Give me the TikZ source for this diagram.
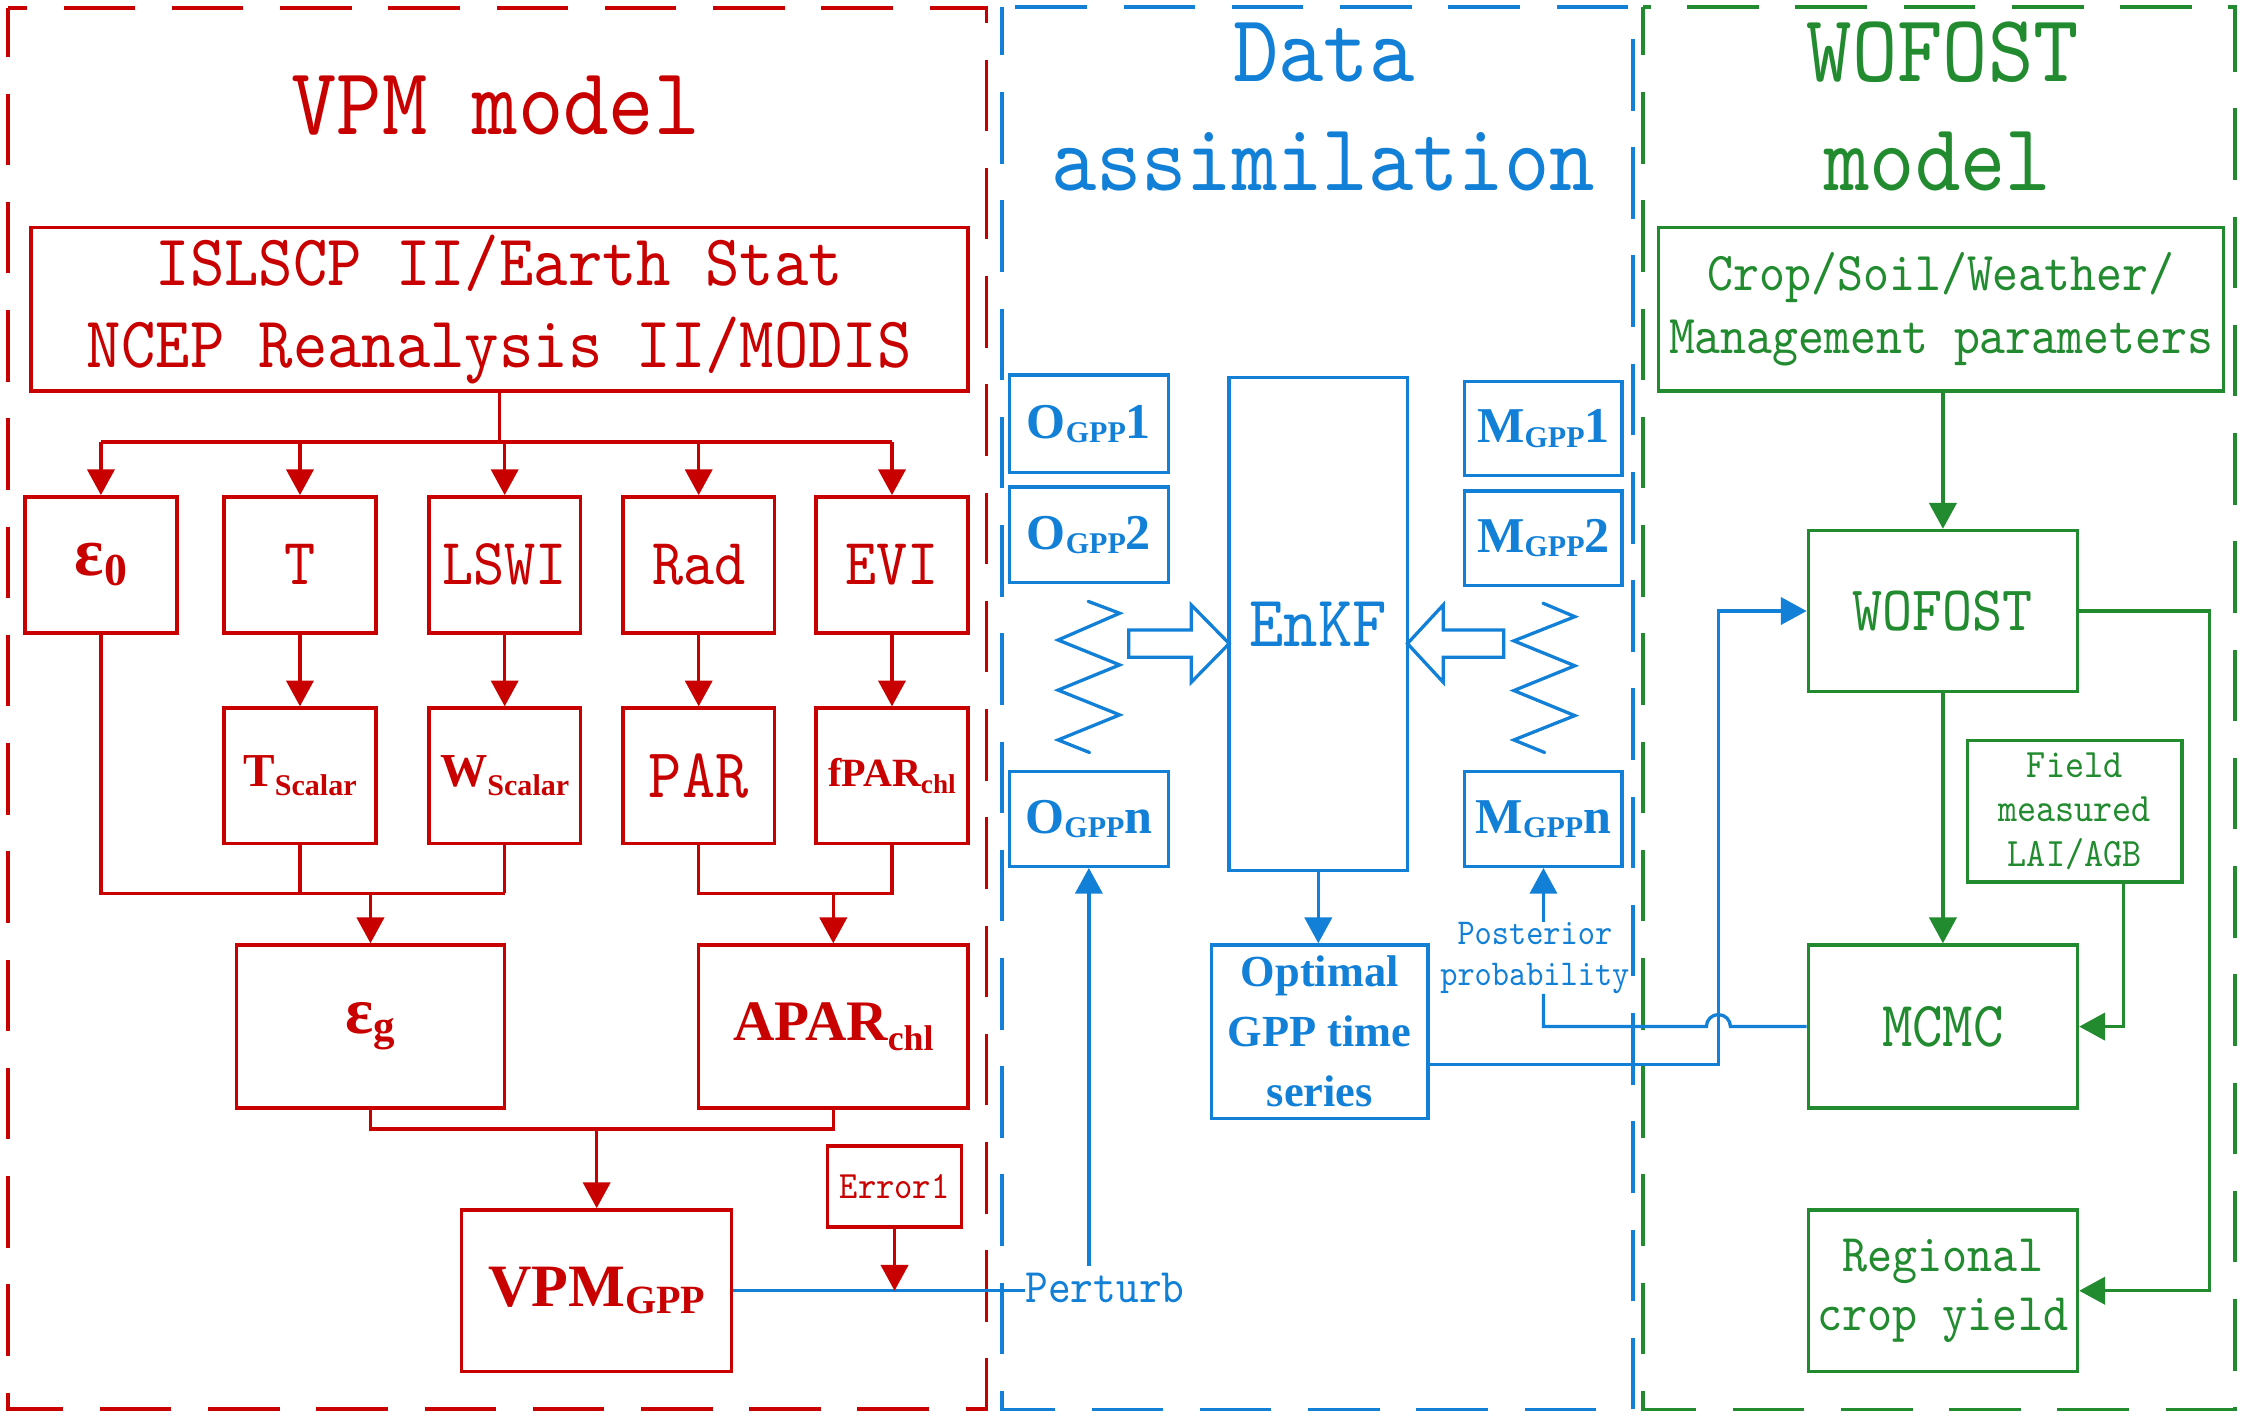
\documentclass[tikz,border=0pt]{standalone}
\usepackage{fontspec}
\setmainfont{Liberation Serif}
\newfontfamily\monof{lmmono10-regular.otf}[FakeStretch=0.9]
\usetikzlibrary{arrows.meta}

\definecolor{vred}{RGB}{200,0,0}
\definecolor{vblue}{RGB}{18,128,214}
\definecolor{vgreen}{RGB}{34,139,48}

\newcommand\vmono[2]{\monof\fontsize{#1}{#2}\selectfont}
\newcommand\vbold[2]{\bfseries\fontsize{#1}{#2}\selectfont}
\newcommand\sbs[3]{\raisebox{-#1pt}{\fontsize{#2}{#2}\selectfont #3}}

\tikzset{
  box/.style={draw, line width=2.4pt, inner sep=0pt, align=center},
  sz/.style 2 args={minimum width=#1pt, minimum height=#2pt},
  link/.style={line width=2.3pt},
  arr/.style={link, -{Triangle[length=18pt,width=19pt]}},
  panel/.style={line width=2.6pt, dash pattern=on 50pt off 25.6pt, dash phase=16pt},
}

\begin{document}
\begin{tikzpicture}[x=1pt, y=-1pt]
    \useasboundingbox (0,0) rectangle (1568,989);

    % Draw the three panels
    \draw[panel, vred] (5.8,5.8) rectangle (689,984.3);
    \draw[panel, vblue] (699.8,4.7) rectangle (1140.3,984.5);
    \draw[panel, vgreen] (1147.6,4.7) rectangle (1561,984.5);

    % VPM model
    \begin{scope}[color=vred]
        \node[font=\vmono{67}{76}, anchor=base] (tvpm) at (346,94) {VPM model};
        \node[box, sz={654.5}{114}, font=\vmono{50.8}{57}] (src) at (348.75,216)
            {ISLSCP II/Earth Stat\\NCEP Reanalysis II/MODIS};

        % Inputs
        \node[box, sz={106}{95}, font=\vbold{48}{50}] (e0) at (70.5,394.5) {ε\sbs{7}{32}{0}};
        \foreach \n/\x/\t in {tt/209.5/T, lswi/352.5/LSWI, rad/488/Rad, evi/623/EVI}
            \node[box, sz={106}{95}, font=\vmono{46}{50}] (\n) at (\x,394.5) {\t};

        % Scalars
        \node[box, sz={106}{94.5}, font=\vbold{33}{36}] (ts) at (209.5,541.75) {T\sbs{6}{21}{Scalar}};
        \node[box, sz={106}{94.5}, font=\vbold{33}{36}] (ws) at (352.5,541.75) {W\sbs{6}{21}{Scalar}};
        \node[box, sz={106}{94.5}, font=\vmono{49}{52}] (par) at (488,541.75) {PAR};
        \node[box, sz={106}{94.5}, font=\vbold{28}{30}] (fpar) at (623,541.75) {fPAR\sbs{5}{19}{chl}};

        \node[box, sz={187.5}{114}, font=\vbold{46}{48}] (eg) at (258.75,717) {ε\sbs{5}{30}{g}};
        \node[box, sz={188}{114}, font=\vbold{40}{44}] (apar) at (582,717) {APAR\sbs{7}{25}{chl}};
        \node[box, sz={188.5}{113}, font=\vbold{42}{46}] (vpm) at (416.75,901.5) {VPM\sbs{5}{28}{GPP}};
        \node[box, sz={93.6}{56.5}, font=\vmono{27}{30}] (err) at (624.8,828.75) {Error1};

        % Connectors
        \coordinate (bus1) at (0,308.7);
        \coordinate (bus2) at (0,624);
        \coordinate (bus3) at (0,788.5);
        \draw[link] (src.south) -- (src.south |- bus1);
        \draw[link] (e0.north |- bus1) -- (evi.north |- bus1);
        \foreach \n in {e0,tt,lswi,rad,evi}
            \draw[arr] (\n.north |- bus1) -- (\n.north);
        \draw[arr] (tt) -- (ts);
        \draw[arr] (lswi) -- (ws);
        \draw[arr] (rad) -- (par);
        \draw[arr] (evi) -- (fpar);
        \draw[link] (e0.south) |- (ws.south |- bus2);
        \draw[link] (ts.south) -- (ts.south |- bus2);
        \draw[link] (ws.south) -- (ws.south |- bus2);
        \draw[arr] (eg.north |- bus2) -- (eg.north);
        \draw[link] (par.south) |- (fpar.south |- bus2) -- (fpar.south);
        \draw[arr] (apar.north |- bus2) -- (apar.north);
        \draw[link] (eg.south) |- (apar.south |- bus3) -- (apar.south);
        \draw[arr] (vpm.north |- bus3) -- (vpm.north);
    \end{scope}

    % Data assimilation
    \begin{scope}[color=vblue]
        \node[font=\vmono{67}{76}, anchor=base] (tda) at (924.5,57) {Data};
        \node[font=\vmono{67}{76}, anchor=base] (tdb) at (924,133) {assimilation};

        \node[box, sz={111}{68}, font=\vbold{35}{38}] (o1) at (760.5,296) {O\sbs{3}{21}{GPP}1};
        \node[box, sz={111}{67}, font=\vbold{35}{38}] (o2) at (760.5,373.5) {O\sbs{3}{21}{GPP}2};
        \node[box, sz={111}{66}, font=\vbold{35}{38}] (on) at (760.5,572) {O\sbs{3}{21}{GPP}n};
        \node[box, sz={110}{65.5}, font=\vbold{35}{38}] (m1) at (1078,299.25) {M\sbs{3}{21}{GPP}1};
        \node[box, sz={110}{66}, font=\vbold{35}{38}] (m2) at (1078,376) {M\sbs{3}{21}{GPP}2};
        \node[box, sz={110}{66}, font=\vbold{35}{38}] (mn) at (1078,572) {M\sbs{3}{21}{GPP}n};
        \node[box, sz={124.5}{344.5}, font=\vmono{50.8}{54}] (enkf) at (920.75,435.75) {EnKF};
        \node[box, sz={151.5}{121}, font=\vbold{31}{42}] (opt) at (921.75,720.5) {Optimal\\GPP time\\series};
        \node[font=\vmono{33.6}{36}, inner sep=0pt, anchor=base west] (pert) at (716,910) {Perturb};
        \node[font=\vmono{25.4}{28.5}, inner sep=0pt, align=center] (post) at (1072,669) {Posterior\\probability};

        % Ensembles
        \draw[link, line cap=round] (760,420) -- (782,428.3) -- (739,447) -- (782,464.4) -- (739,482)
            -- (782,499.3) -- (739,516.8) -- (761,525.6);
        \draw[link, line cap=round] (1077.7,421.3) -- (1099.9,430.7) -- (1057.3,447.6) -- (1099.9,465)
            -- (1057.3,482.3) -- (1099.9,499.8) -- (1057.3,516.8) -- (1078.9,525.6);
        \draw[link] (788.4,440) -- (832,440) -- (832,422.5) -- (858.5,449.5) -- (832,476.5)
            -- (832,459) -- (788.4,459) -- cycle;
        \draw[link] (1050.3,440) -- (1008,440) -- (1008,422.5) -- (983,449.5) -- (1008,476.5)
            -- (1008,459) -- (1050.3,459) -- cycle;

        % Connectors
        \draw[link] (vpm.east) -- (vpm.east -| pert.west);
        \draw[arr] ([yshift=5pt]on.south |- pert.north) -- (on.south);
        \draw[arr] (enkf.south) -- (enkf.south |- opt.north);
    \end{scope}

    % WOFOST model
    \begin{scope}[color=vgreen]
        \node[font=\vmono{67}{76}, anchor=base] (twa) at (1357,57) {WOFOST};
        \node[font=\vmono{67}{76}, anchor=base] (twb) at (1353.5,133) {model};

        \node[box, sz={394.5}{114}, font=\vmono{38.3}{44}] (crop) at (1355.75,216)
            {Crop/Soil/Weather/\\Management parameters};
        \node[box, sz={188}{112.5}, font=\vmono{44.4}{48}] (wof) at (1357,426.75) {WOFOST};
        \node[box, sz={188}{114}, font=\vmono{45}{48}] (mcmc) at (1357,717) {MCMC};
        \node[box, sz={150}{99}, font=\vmono{28.2}{31}] (field) at (1449,566.5) {Field\\measured\\LAI/AGB};
        \node[box, sz={188}{113}, font=\vmono{37}{41}] (reg) at (1357,901.5) {Regional\\crop yield};

        % Connectors
        \draw[arr] (wof.north |- crop.south) -- (wof.north);
        \draw[arr] (wof.south) -- (mcmc.north);
        \draw[arr] ([xshift=34pt]field.south) |- (mcmc.east);
        \coordinate (rx) at (1543,600);
        \draw[arr] (wof.east) -| (rx) |- (reg.east);
    \end{scope}

    % Links between the panels
    \coordinate (vx) at (1200.5,600);
    \draw[arr, vblue] ([yshift=-23pt]opt.east) -| (vx) |- (wof.west);
    \draw[link, vblue] (mcmc.west) -- (1208.6,717) arc[start angle=0, end angle=180, radius=8.4pt]
        -- (mn.south |- mcmc.west) -- (mn.south |- post.south);
    \draw[arr, vblue] (mn.south |- post.north) -- (mn.south);
    \draw[arr, vred] (err.south) -- (err.south |- vpm.east);

\end{tikzpicture}
\end{document}
